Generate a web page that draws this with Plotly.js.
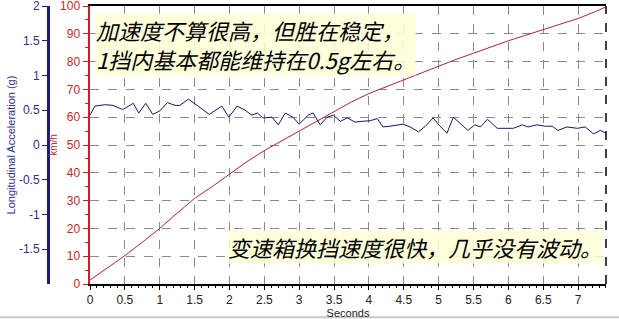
<!DOCTYPE html>
<html>
<head>
<meta charset="utf-8">
<script src="https://cdn.plot.ly/plotly-3.0.1.min.js"></script>
<style>html,body{margin:0;padding:0;background:#fff;}#chart{width:619px;height:319px;}</style>
</head>
<body>
<div id="chart"></div>
<script>
// Longitudinal acceleration (g) vs time (s)
var accelTime = [0.00,0.07,0.22,0.33,0.47,0.62,0.70,0.80,0.90,1.00,1.11,1.22,1.29,1.41,1.55,1.71,1.89,1.99,2.11,2.21,2.32,2.40,2.48,2.61,2.70,2.80,2.91,3.00,3.13,3.20,3.30,3.40,3.49,3.59,3.69,3.80,3.90,4.02,4.12,4.20,4.30,4.49,4.59,4.71,4.81,4.92,5.02,5.12,5.21,5.34,5.42,5.52,5.60,5.70,5.84,5.98,6.07,6.20,6.28,6.41,6.53,6.63,6.71,6.84,6.99,7.10,7.22,7.32,7.40];
var accelG = [0.43,0.56,0.58,0.57,0.51,0.60,0.46,0.60,0.44,0.49,0.61,0.57,0.57,0.66,0.56,0.44,0.56,0.40,0.56,0.51,0.43,0.46,0.39,0.40,0.29,0.46,0.40,0.30,0.43,0.46,0.29,0.40,0.43,0.34,0.39,0.33,0.34,0.35,0.38,0.26,0.27,0.30,0.26,0.19,0.27,0.39,0.27,0.17,0.40,0.29,0.21,0.29,0.26,0.37,0.24,0.24,0.24,0.29,0.26,0.29,0.27,0.27,0.21,0.26,0.24,0.26,0.16,0.21,0.17];
// Speed (km/h) vs time (s)
var speedTime = [0,0.25,0.5,0.75,1.0,1.25,1.5,1.75,2.0,2.25,2.5,2.75,3.0,3.25,3.5,3.75,4.0,4.25,4.5,4.75,5.0,5.25,5.5,5.75,6.0,6.25,6.5,6.75,7.0,7.25,7.4];
var speedKmh = [1.4,5.8,10.2,15,20,25.5,30.8,35,39.5,44,48,51.5,55,58.5,62,65.5,68.5,71,73.5,76,78.3,80.8,83,85.3,87.5,89.5,91.5,93.5,95.5,98,99.7];
// Tick labels
var xTicks = [0,0.5,1,1.5,2,2.5,3,3.5,4,4.5,5,5.5,6,6.5,7];
var xTickText = ['0','0.5','1','1.5','2','2.5','3','3.5','4','4.5','5','5.5','6','6.5','7'];
var gTicks = [-1.5,-1,-0.5,0,0.5,1,1.5,2];
var gTickText = ['-1.5','-1','-0.5','0','0.5','1','1.5','2'];
var note1 = '加速度不算很高，但胜在稳定，';
var note2 = '1挡内基本都能维持在0.5g左右。';
var note3 = '变速箱换挡速度很快，几乎没有波动。';

var RED = '#cc1f1f', NAVY = '#1c1c7c';
var traces = [
  {x: speedTime, y: speedKmh, type: 'scatter', mode: 'lines', yaxis: 'y',
   line: {color: '#b3213c', width: 1}, name: 'km/h', hoverinfo: 'skip', cliponaxis: false},
  {x: accelTime, y: accelG, type: 'scatter', mode: 'lines', yaxis: 'y2',
   line: {color: '#15156e', width: 1}, name: 'g', hoverinfo: 'skip'}
];
var ann = {xref: 'x domain', yref: 'y domain', showarrow: false, borderpad: 0,
  bgcolor: 'rgba(255,255,214,0.85)',
  font: {family: 'Noto Sans CJK SC', size: 22, color: '#000', style: 'italic'}};
var layout = {
  width: 619, height: 319,
  margin: {l: 48, r: 13, t: 6, b: 35},
  paper_bgcolor: '#fff', plot_bgcolor: '#fff',
  showlegend: false,
  font: {family: 'Liberation Sans, Arial, sans-serif', size: 12},
  xaxis: {domain: [0.0753, 1], range: [0, 7.4], tickvals: xTicks, ticktext: xTickText,
    showgrid: true, gridcolor: '#8a8a8a', griddash: 'dash', gridwidth: 1,
    zeroline: false, showline: true, linecolor: '#000', linewidth: 2, mirror: true,
    ticks: 'outside', ticklen: 4, tickcolor: '#000',
    minor: {dtick: 0.1, ticklen: 2, tickcolor: '#000', showgrid: false},
    tickfont: {color: '#222', size: 12},
    title: {text: 'Seconds', font: {size: 11, color: '#222'}, standoff: 2}},
  yaxis: {range: [0, 100], dtick: 10, anchor: 'x', ticklabeloverflow: 'allow',
    showgrid: true, gridcolor: '#8a8a8a', griddash: 'dash', gridwidth: 1,
    zeroline: false, showline: true, linecolor: RED, linewidth: 2.5,
    ticks: 'outside', ticklen: 5, tickcolor: RED,
    minor: {dtick: 5, ticklen: 3, tickcolor: RED, showgrid: false},
    tickfont: {color: '#c42a2a', size: 12},
    title: {text: 'km/h', font: {size: 10, color: '#c42a2a'}, standoff: 1}},
  yaxis2: {range: [-2, 2], tickvals: gTicks, ticktext: gTickText, ticklabeloverflow: 'allow',
    overlaying: 'y', side: 'left', anchor: 'free', position: 0,
    showgrid: false, zeroline: false, showline: true, linecolor: NAVY, linewidth: 2.5,
    ticks: 'outside', ticklen: 5, tickcolor: NAVY,
    tickfont: {color: '#2e2e90', size: 12},
    title: {text: 'Longitudinal Acceleration (g)', font: {size: 11, color: '#2e2e90'}, standoff: 0}},
  shapes: [
    {type: 'line', xref: 'x domain', yref: 'y domain', x0: 1, x1: 1, y0: 0, y1: 1,
     line: {color: '#000', width: 1.5, dash: 'dash'}},
    {type: 'line', xref: 'paper', yref: 'y domain', x0: -0.1, x1: 1.1, y0: -0.12, y1: -0.12,
     line: {color: '#c8c8c8', width: 2}}
  ],
  annotations: [
    Object.assign({}, ann, {text: note1 + '<br>' + note2, align: 'left',
      x: 0.0097, xanchor: 'left', y: 0.86, yanchor: 'middle'}),
    Object.assign({}, ann, {text: note3, x: 0.994, xanchor: 'right', y: 0.133, yanchor: 'middle'})
  ]
};
Plotly.newPlot('chart', traces, layout, {displayModeBar: false, staticPlot: true});
</script>
</body>
</html>
